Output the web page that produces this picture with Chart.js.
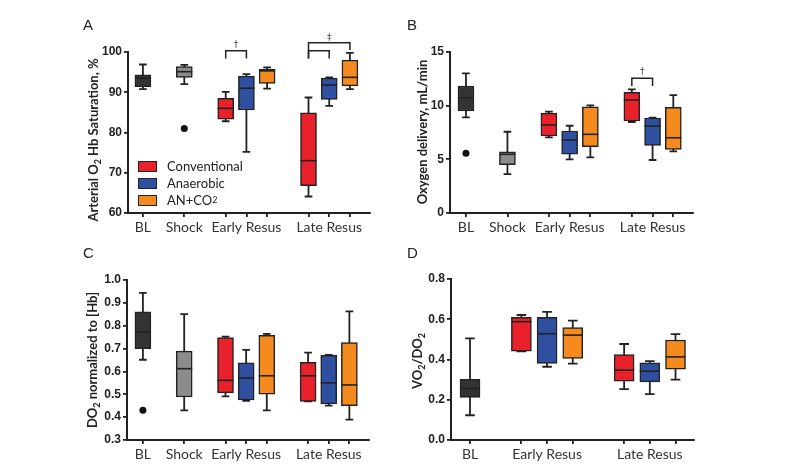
<!DOCTYPE html>
<html>
<head>
<meta charset="utf-8">
<script src="https://cdn.jsdelivr.net/npm/chart.js@4.4.1/dist/chart.umd.min.js"></script>
<style>
  body { margin: 0; background: #fff; width: 800px; height: 471px; position: relative; overflow: hidden; }
  canvas { position: absolute; }
  .letter { position: absolute; font: 15px "Liberation Sans", Arial, sans-serif; color: #222; }
  .ytitle { position: absolute; transform: translate(-50%, -50%) rotate(-90deg); white-space: nowrap;
            font: bold 13px Lato, sans-serif; color: #222; line-height: 14px; }
  .ytitle sub, .legend sub { font-size: 9px; vertical-align: -3px; line-height: 0; }
  .legend { position: absolute; left: 138px; top: 157.5px; font: 13px Lato, sans-serif; color: #222; }
  .legend div { height: 17px; display: flex; align-items: center; }
  .legend .sw { display: inline-block; width: 17px; height: 9px; border: 1px solid #222; margin-right: 10px; }
</style>
</head>
<body>
<canvas id="cA" width="400" height="240" style="left:0;top:0"></canvas>
<canvas id="cB" width="400" height="240" style="left:400px;top:0"></canvas>
<canvas id="cC" width="400" height="231" style="left:0;top:240px"></canvas>
<canvas id="cD" width="400" height="231" style="left:400px;top:240px"></canvas>
<div class="letter" style="left:83px;top:16px">A</div>
<div class="letter" style="left:407px;top:16px">B</div>
<div class="letter" style="left:83px;top:244px">C</div>
<div class="letter" style="left:407px;top:244px">D</div>
<div class="ytitle" style="left:93px;top:140px">Arterial O<sub>2</sub> Hb Saturation, %</div>
<div class="ytitle" style="left:422px;top:132px">Oxygen delivery, mL/min</div>
<div class="ytitle" style="left:92px;top:360px">DO<sub>2</sub> normalized to [Hb]</div>
<div class="ytitle" style="left:417px;top:361px">VO<sub>2</sub>/DO<sub>2</sub></div>
<div class="legend" id="legend"></div>

<script>
// x positions of the boxes and the tick labels
const posABC = [0, 2, 4, 5, 6, 8, 9, 10];
const labelsABC = ["BL", "Shock", "", "Early Resus", "", "", "Late Resus", ""];
const posD = [0, 2, 3, 4, 6, 7, 8];
const labelsD = ["BL", "", "Early Resus", "", "", "Late Resus", ""];
const groupNames = ["Conventional", "Anaerobic", "AN+CO<sub>2</sub>"];

// each box: [low whisker, q1, median, q3, high whisker]
// order: BL, Shock, Early (Conv, Anaer, AN+CO2), Late (Conv, Anaer, AN+CO2)
const satBoxes = [
  [90.8, 91.4, 93.5, 94.3, 96.9],
  [92.0, 93.7, 95.1, 96.4, 96.8],
  [82.8, 83.3, 86.0, 88.5, 90.1],
  [75.2, 85.6, 91.0, 94.0, 94.5],
  [90.9, 92.2, 95.3, 95.7, 96.2],
  [64.1, 66.8, 73.0, 84.9, 88.7],
  [86.6, 88.2, 91.8, 93.5, 93.7],
  [90.8, 91.6, 93.7, 98.0, 99.8]
];
const satOutliers = [{ box: 1, value: 81.0 }];

const deliveryBoxes = [
  [8.9, 9.5, 10.74, 11.83, 13.0],
  [3.63, 4.5, 5.47, 5.71, 7.57],
  [7.05, 7.17, 8.2, 9.3, 9.44],
  [5.0, 5.47, 6.8, 7.64, 8.13],
  [5.19, 6.18, 7.33, 9.9, 10.03],
  [8.48, 8.57, 10.53, 11.24, 11.52],
  [4.94, 6.3, 8.1, 8.85, 8.88],
  [5.75, 5.93, 7.01, 9.84, 10.99]
];
const deliveryOutliers = [{ box: 0, value: 5.56 }];

const normBoxes = [
  [0.651, 0.70, 0.773, 0.861, 0.944],
  [0.43, 0.488, 0.612, 0.689, 0.851],
  [0.491, 0.506, 0.561, 0.748, 0.752],
  [0.471, 0.475, 0.571, 0.638, 0.694],
  [0.43, 0.50, 0.581, 0.758, 0.764],
  [0.469, 0.469, 0.581, 0.64, 0.682],
  [0.45, 0.458, 0.55, 0.67, 0.672],
  [0.389, 0.45, 0.541, 0.726, 0.863]
];
const normOutliers = [{ box: 0, value: 0.43 }];

// order: BL, Early (Conv, Anaer, AN+CO2), Late (Conv, Anaer, AN+CO2)
const ratioBoxes = [
  [0.123, 0.211, 0.256, 0.302, 0.505],
  [0.44, 0.442, 0.588, 0.609, 0.621],
  [0.364, 0.38, 0.528, 0.609, 0.637],
  [0.38, 0.405, 0.521, 0.558, 0.593],
  [0.253, 0.292, 0.347, 0.425, 0.477],
  [0.228, 0.289, 0.342, 0.384, 0.392],
  [0.30, 0.352, 0.413, 0.497, 0.526]
];

// significance brackets: from/to box position, bar level, leg ends, mark
const satBrackets = [
  { from: 4, to: 5, top: 100.3, legL: 98.4, legR: 98.4, mark: "\u2020", markAt: 101.9 },
  { from: 8, to: 9, top: 100.3, legL: 98.4, legR: 98.4, mark: "", markAt: 0 },
  { from: 8, to: 10, top: 102.3, legL: 98.4, legR: 100.5, mark: "\u2021", markAt: 103.6 }
];
const deliveryBrackets = [
  { from: 8, to: 9, top: 12.55, legL: 11.83, legR: 11.83, mark: "\u2020", markAt: 13.2 }
];

const dark = "#222";
const blColor = "#333333", shockColor = "#8c8c8c";
const groupColors = ["#e8212b", "#2f4fa0", "#f58a1f"];
const colorsABC = [blColor, shockColor, ...groupColors, ...groupColors];
const colorsD = [blColor, ...groupColors, ...groupColors];

document.getElementById("legend").innerHTML = groupNames.map((n, i) =>
  `<div><span class="sw" style="background:${groupColors[i]}"></span>${n}</div>`).join("");

function boxPlugin(o) {
  return {
    id: "boxes",
    beforeDatasetsDraw(chart) {
      const { ctx, scales: { x, y } } = chart;
      ctx.save();
      ctx.strokeStyle = dark;
      ctx.lineWidth = 1.8;
      o.boxes.forEach((b, i) => {
        const px = x.getPixelForValue(o.pos[i]);
        const lo = y.getPixelForValue(b[0]), hi = y.getPixelForValue(b[4]);
        const c = o.boxW * 0.24;
        ctx.beginPath();
        ctx.moveTo(px, lo); ctx.lineTo(px, hi);
        ctx.moveTo(px - c, lo); ctx.lineTo(px + c, lo);
        ctx.moveTo(px - c, hi); ctx.lineTo(px + c, hi);
        ctx.stroke();
      });
      ctx.restore();
    },
    afterDatasetsDraw(chart) {
      const { ctx, scales: { x, y } } = chart;
      ctx.save();
      ctx.strokeStyle = dark;
      ctx.lineWidth = 1.6;
      o.boxes.forEach((b, i) => {
        const px = x.getPixelForValue(o.pos[i]);
        const m = y.getPixelForValue(b[2]);
        ctx.beginPath();
        ctx.moveTo(px - o.boxW / 2, m); ctx.lineTo(px + o.boxW / 2, m);
        ctx.stroke();
      });
      ctx.lineWidth = 1.5;
      ctx.fillStyle = "#444";
      ctx.font = "9px 'DejaVu Sans', sans-serif";
      ctx.textAlign = "center";
      ctx.textBaseline = "middle";
      (o.brackets || []).forEach(k => {
        const x1 = x.getPixelForValue(k.from), x2 = x.getPixelForValue(k.to);
        const t = y.getPixelForValue(k.top);
        ctx.beginPath();
        ctx.moveTo(x1, y.getPixelForValue(k.legL));
        ctx.lineTo(x1, t); ctx.lineTo(x2, t);
        ctx.lineTo(x2, y.getPixelForValue(k.legR));
        ctx.stroke();
        if (k.mark) ctx.fillText(k.mark, (x1 + x2) / 2, y.getPixelForValue(k.markAt));
      });
      ctx.restore();
    }
  };
}

function panel(id, o) {
  new Chart(document.getElementById(id), {
    type: "bar",
    data: {
      datasets: [
        {
          type: "bar",
          data: o.boxes.map((b, i) => ({ x: o.pos[i], y: [b[1], b[3]] })),
          backgroundColor: o.colors,
          borderColor: dark,
          borderWidth: 1.5,
          borderSkipped: false,
          barThickness: o.boxW,
          order: 2
        },
        {
          type: "scatter",
          data: (o.outliers || []).map(p => ({ x: o.pos[p.box], y: p.value })),
          pointRadius: 3.5,
          backgroundColor: "#111",
          borderWidth: 0,
          order: 1
        }
      ]
    },
    options: {
      responsive: false,
      animation: false,
      layout: { padding: o.pad },
      plugins: { legend: { display: false }, tooltip: { enabled: false } },
      scales: {
        x: {
          type: "linear",
          min: o.xMin, max: o.xMax,
          offset: false,
          afterBuildTicks: s => { s.ticks = o.pos.map(v => ({ value: v })); },
          afterFit: s => { s.height = 25; },
          ticks: {
            autoSkip: false, maxRotation: 0, padding: 2,
            color: "#333",
            font: { family: "Lato", size: 14 },
            callback: (v, i) => o.labels[i]
          },
          grid: { display: true, drawOnChartArea: false, drawTicks: true, tickLength: 4, color: dark, lineWidth: 1.8, offset: false },
          border: { display: true, color: dark, width: 2 }
        },
        y: {
          min: o.yMin, max: o.yMax,
          afterFit: s => { s.width = o.yW; },
          ticks: {
            stepSize: o.step, padding: 2, color: "#222",
            font: { family: "Liberation Sans", size: 12, weight: "bold" },
            callback: v => o.fmt ? v.toFixed(1) : v
          },
          grid: { display: true, drawOnChartArea: false, drawTicks: true, tickLength: 4, color: dark, lineWidth: 1.8 },
          border: { display: true, color: dark, width: 2 }
        }
      }
    },
    plugins: [boxPlugin(o)]
  });
}

panel("cA", {
  boxes: satBoxes, outliers: satOutliers, brackets: satBrackets,
  pos: posABC, labels: labelsABC, colors: colorsABC, boxW: 16,
  xMin: -0.72, xMax: 10.97, yMin: 60, yMax: 100, step: 10,
  pad: { left: 80, top: 52, right: 30, bottom: 2 }, yW: 48
});
panel("cB", {
  boxes: deliveryBoxes, outliers: deliveryOutliers, brackets: deliveryBrackets,
  pos: posABC, labels: labelsABC, colors: colorsABC, boxW: 16,
  xMin: -0.77, xMax: 10.95, yMin: 0, yMax: 15, step: 5,
  pad: { left: 10, top: 52, right: 107, bottom: 2 }, yW: 40
});
panel("cC", {
  boxes: normBoxes, outliers: normOutliers,
  pos: posABC, labels: labelsABC, colors: colorsABC, boxW: 16,
  xMin: -0.77, xMax: 10.95, yMin: 0.3, yMax: 1.0, step: 0.1, fmt: true,
  pad: { left: 80, top: 40, right: 31, bottom: 6 }, yW: 47
});
panel("cD", {
  boxes: ratioBoxes,
  pos: posD, labels: labelsD, colors: colorsD, boxW: 20,
  xMin: -0.74, xMax: 8.72, yMin: 0, yMax: 0.8, step: 0.2, fmt: true,
  pad: { left: 6, top: 39, right: 106, bottom: 6 }, yW: 45
});
</script>
</body>
</html>
